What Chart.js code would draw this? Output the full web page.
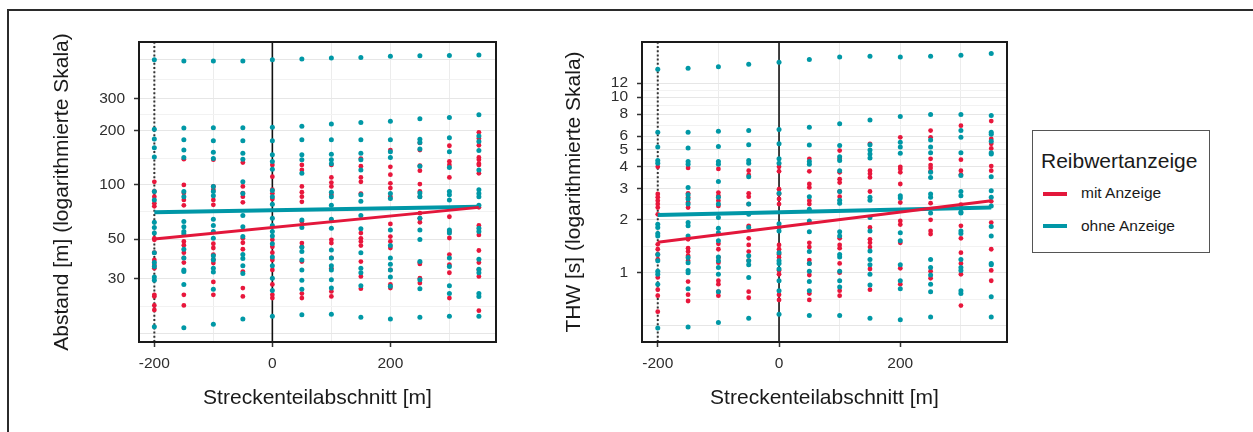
<!DOCTYPE html>
<html>
<head>
<meta charset="utf-8">
<script src="https://cdn.jsdelivr.net/npm/chart.js@4.4.1/dist/chart.umd.min.js"></script>
<style>
  html, body { margin: 0; padding: 0; background: #fff; }
  body { width: 1253px; height: 432px; position: relative; overflow: hidden; font-family: "Liberation Sans", Arial, sans-serif; }
  .frame { position: absolute; left: 7px; top: 9px; width: 1260px; height: 440px; border-top: 2px solid #2b2b2b; border-left: 2px solid #2b2b2b; }
  canvas { position: absolute; top: 0; }
  #left { left: 0; }
  #right { left: 520px; }
  .legend { position: absolute; left: 1032px; top: 130px; width: 176px; height: 121px; border: 1px solid #555; color: #1a1a1a; }
  .legend .title { position: absolute; left: 8px; top: 18px; font-size: 21px; line-height: 24px; white-space: nowrap; }
  .legend .key { position: absolute; left: 10px; width: 24px; height: 4px; }
  .legend .label { position: absolute; left: 48px; font-size: 15.5px; line-height: 18px; white-space: nowrap; }
</style>
</head>
<body>
<div class="frame"></div>
<canvas id="left" width="510" height="432"></canvas>
<canvas id="right" width="500" height="432"></canvas>
<div class="legend">
  <div class="title">Reibwertanzeige</div>
  <div class="key" style="top:61px;background:#e3173b"></div>
  <div class="label" style="top:53px">mit Anzeige</div>
  <div class="key" style="top:93px;background:#0097a7"></div>
  <div class="label" style="top:86px">ohne Anzeige</div>
</div>
<script>
// Streckenteilabschnitte (x)
const xColumns = [-200, -150, -100, -50, 0, 50, 100, 150, 200, 250, 300, 350]
const xGrid = [-200, -100, 0, 100, 200, 300]
const xTickLabels = [-200, 0, 200]
const refLines = [-200, 0]
const fitX = [-200, 350]

// Abstand [m]
const leftYMajor = [15, 30, 50, 100, 200, 300, 500]
const leftYMinor = [21.2, 38.7, 70.7, 141, 245, 387]
const leftYLabels = [30, 50, 100, 200, 300]
const leftRange = [13.4, 622]

const leftMit = [
  [104, 92, 86, 79, 76, 50.5, 49.5, 42, 38.3, 35.9, 34.4, 24.5, 24, 21.4, 20.2],
  [139, 100, 90, 82.5, 77, 48.5, 46.2, 42, 39.3, 37, 24.5, 21.4],
  [138, 98, 94, 82.5, 77.5, 47.1, 44.6, 41, 38.6, 36.8, 28.9, 24.5],
  [133, 98, 90, 86, 80, 50.5, 47.7, 43.9, 33, 26.7, 24],
  [129, 111, 94, 89.5, 83.5, 49.5, 45.3, 42, 38.3, 33.7, 28, 24.5, 23.5],
  [129, 121, 98, 91, 86, 80.5, 62.5, 47.5, 45.3, 37.5, 24.9, 23.5],
  [129, 110, 103, 98, 88, 49.5, 47.5, 39.3, 34.4, 25.6, 24],
  [140, 127, 110, 104, 89.5, 54, 50.5, 48.5, 46, 37.5, 31, 26.5],
  [156, 126, 114, 102, 96, 86, 60.7, 51.6, 48.5, 44.6, 33.7, 28, 26.7],
  [171, 156, 128, 120, 101, 92, 86, 69.6, 65.2, 62, 37, 36.4, 30.3, 28.5],
  [165, 135, 129, 110, 66.5, 55, 50.7, 41, 36, 32.5, 23.5],
  [196, 181, 166, 142, 138, 131, 129, 116, 75, 59.5, 52.7, 43.2, 37, 33.7, 31, 20]
]
const leftOhne = [
  [495, 204, 180, 161, 143, 92, 82.5, 62, 58, 54, 42, 37, 35.2, 30.8, 29.5, 16.3],
  [488, 207, 178, 156, 142, 92, 86, 62.5, 58.6, 55, 53.5, 43.9, 39.3, 33.7, 33, 28, 16.1],
  [488, 208, 176, 152, 140, 98, 92, 87, 64.5, 59.5, 55, 50.5, 40.4, 38.3, 34.4, 32.8, 26.3, 16.8],
  [488, 208, 176, 150, 139, 104, 89.5, 67.5, 58.6, 51.6, 41, 39, 35.5, 32.2, 18],
  [495, 209, 176, 147, 135, 122, 93, 86, 78, 65.2, 59.5, 55, 52, 47.1, 39.8, 35.5, 30.3, 25.9, 18.6],
  [500, 212, 178, 147, 138, 116, 63.9, 58, 45.1, 42.7, 38.3, 33.7, 29.5, 26.3, 19],
  [507, 218, 178, 148, 138, 131, 91, 86, 77, 64.5, 57.5, 43.5, 39.3, 35.5, 33.7, 29.7, 26.7, 19.1],
  [510, 222, 178, 150, 138, 121, 88, 81, 67.5, 57, 42, 34.4, 32.5, 27.5, 18.4],
  [518, 226, 178, 153, 142, 89.5, 84, 56.2, 46, 39.3, 36.2, 33.7, 30.8, 27.3, 18],
  [522, 233, 179, 172, 158, 127, 90, 86, 65.2, 56.2, 49.7, 37.5, 29.7, 26.5, 18.4],
  [524, 237, 183, 153, 125, 92, 88, 82.5, 56.2, 54, 39.3, 35.2, 27.5, 24.9, 18.6],
  [527, 245, 187, 174, 155, 121, 94, 89.5, 86, 77, 57.5, 55, 38.6, 34, 32.5, 24.9, 24, 18.6]
]
const leftFitMit = [50, 75]
const leftFitOhne = [70.5, 75.5]

// THW [s]
const rightYMajor = [0.5, 1, 2, 3, 4, 5, 6, 8, 10, 12]
const rightYMinor = [0.707, 1.41, 2.45, 3.46, 4.47, 5.48, 6.93, 8.94, 10.95]
const rightYLabels = [1, 2, 3, 4, 5, 6, 8, 10, 12]
const rightRange = [0.403, 20.6]

const rightMit = [
  [4.01, 2.81, 2.69, 2.57, 2.46, 2.35, 2.15, 1.45, 1.36, 1.27, 1.19, 0.94, 0.8, 0.74, 0.6],
  [3.95, 2.83, 2.69, 2.51, 2.35, 1.55, 1.38, 1.32, 1.25, 1.17, 0.89, 0.75, 0.69],
  [3.9, 2.86, 2.74, 2.57, 2.4, 1.46, 1.36, 1.22, 1.14, 0.9, 0.86, 0.78, 0.74],
  [3.81, 3.6, 2.83, 2.71, 2.46, 1.85, 1.57, 1.44, 1.32, 1.17, 0.78, 0.72],
  [4.01, 3.78, 2.99, 2.81, 2.63, 2.46, 1.44, 1.36, 1.27, 1.22, 1.03, 0.98, 0.75, 0.7],
  [4.45, 3.78, 3.2, 3.06, 2.57, 2.46, 1.48, 1.4, 1.18, 1.13, 0.97, 0.76, 0.7],
  [4.96, 4.45, 3.73, 3.41, 3.26, 2.9, 2.71, 1.57, 1.44, 1.38, 1.13, 1.0, 0.79, 0.74],
  [5.42, 3.81, 3.66, 3.49, 2.9, 1.81, 1.55, 1.48, 1.4, 1.05, 0.8],
  [5.9, 4.01, 3.9, 3.73, 3.2, 2.51, 1.97, 1.88, 1.48, 1.06, 0.86],
  [6.45, 5.9, 4.45, 4.1, 3.95, 3.78, 2.49, 2.0, 1.73, 1.66, 1.02, 0.93],
  [6.88, 4.4, 3.81, 3.62, 2.44, 1.85, 1.57, 1.3, 1.13, 0.98, 0.65],
  [7.3, 5.78, 5.42, 5.1, 4.05, 3.81, 2.55, 1.93, 1.36, 1.03, 0.9]
]
const rightOhne = [
  [14.4, 6.3, 5.2, 4.35, 4.2, 1.89, 1.81, 1.67, 1.62, 1.27, 1.17, 1.02, 0.98, 0.86, 0.485],
  [14.6, 6.3, 5.13, 4.3, 4.15, 3.06, 2.78, 2.63, 2.46, 1.93, 1.85, 1.62, 1.22, 1.14, 1.03, 1.0, 0.81, 0.49],
  [14.9, 6.4, 5.23, 4.3, 4.15, 3.31, 2.69, 2.46, 2.06, 1.79, 1.69, 1.52, 1.23, 1.17, 1.07, 0.98, 0.78, 0.52],
  [15.4, 6.45, 5.36, 4.35, 4.2, 3.52, 2.46, 2.15, 1.81, 1.25, 1.17, 1.11, 0.94, 0.55],
  [15.8, 6.55, 5.42, 4.45, 4.2, 2.83, 1.9, 1.81, 1.73, 1.3, 1.17, 1.13, 1.05, 0.9, 0.79, 0.58],
  [16.4, 6.73, 5.34, 4.3, 4.15, 2.71, 2.3, 1.97, 1.71, 1.32, 1.13, 1.02, 0.89, 0.79, 0.57],
  [16.9, 7.06, 5.3, 4.58, 4.35, 3.81, 2.9, 2.59, 2.49, 1.71, 1.62, 1.27, 1.23, 1.02, 0.9, 0.83, 0.57],
  [17.1, 7.4, 5.36, 5.0, 4.75, 4.5, 2.69, 2.59, 2.06, 1.73, 1.33, 1.19, 1.11, 0.98, 0.85, 0.55],
  [16.9, 7.75, 5.53, 5.2, 4.79, 2.74, 2.66, 1.69, 1.52, 1.11, 0.9, 0.81, 0.54],
  [17.1, 7.95, 5.7, 5.2, 4.82, 3.73, 3.49, 2.81, 2.69, 2.19, 1.19, 1.07, 0.97, 0.86, 0.78, 0.56],
  [17.3, 7.95, 6.45, 5.9, 4.82, 3.58, 2.9, 2.74, 2.22, 2.19, 1.73, 1.67, 1.19, 1.07, 1.03, 0.79, 0.76],
  [17.7, 7.85, 6.3, 6.15, 5.6, 4.82, 4.75, 3.52, 2.93, 2.69, 2.4, 1.83, 1.62, 1.13, 1.11, 0.73, 0.56]
]
const rightFitMit = [1.49, 2.57]
const rightFitOhne = [2.13, 2.35]

const RED = '#e8173c'
const TEAL = '#0098a6'
const RED_LINE = '#e3173b'
const TEAL_LINE = '#0097a7'

Chart.defaults.font.family = '"Liberation Sans", Arial, sans-serif'

const toPoints = (columns) => {
  const pts = []
  xColumns.forEach((x, i) => columns[i].forEach(y => pts.push({ x, y })))
  return pts
}

const panelBorder = {
  id: 'panelBorder',
  afterDatasetsDraw(chart) {
    const { ctx, chartArea: { left, top, width, height } } = chart
    ctx.save()
    ctx.strokeStyle = '#1a1a1a'
    ctx.lineWidth = 2
    ctx.strokeRect(left, top, width, height)
    ctx.restore()
  }
}

const buildPanel = ({ canvasId, mit, ohne, fitMit, fitOhne, yMajor, yMinor, yLabels, yRange, xRange, yTitle, yAxisWidth, yTitlePad, rightPad }) => {
  const yTicks = [...yMajor, ...yMinor].sort((a, b) => a - b)
  const datasets = [
    {
      label: 'mit Anzeige fit', data: fitX.map((x, i) => ({ x, y: fitMit[i] })),
      showLine: true, borderColor: RED_LINE, borderWidth: 3, pointRadius: 0, order: 0
    },
    {
      label: 'ohne Anzeige fit', data: fitX.map((x, i) => ({ x, y: fitOhne[i] })),
      showLine: true, borderColor: TEAL_LINE, borderWidth: 4, pointRadius: 0, order: 1
    },
    {
      label: 'ohne Anzeige', data: toPoints(ohne),
      backgroundColor: TEAL, borderWidth: 0, pointRadius: 2.5, order: 2
    },
    {
      label: 'mit Anzeige', data: toPoints(mit),
      backgroundColor: RED, borderWidth: 0, pointRadius: 2.4, order: 3
    },
    {
      label: 'ref -200', data: [{ x: refLines[0], y: yRange[0] }, { x: refLines[0], y: yRange[1] }],
      showLine: true, borderColor: '#333', borderWidth: 2, borderDash: [2, 2.2], pointRadius: 0, order: 5
    },
    {
      label: 'ref 0', data: [{ x: refLines[1], y: yRange[0] }, { x: refLines[1], y: yRange[1] }],
      showLine: true, borderColor: '#111', borderWidth: 1.6, pointRadius: 0, order: 4
    }
  ]

  return new Chart(document.getElementById(canvasId), {
    type: 'scatter',
    data: { datasets },
    plugins: [panelBorder],
    options: {
      responsive: false,
      animation: false,
      events: [],
      layout: { padding: { top: 42, right: rightPad, bottom: 0, left: 0 } },
      plugins: { legend: { display: false }, tooltip: { enabled: false } },
      scales: {
        x: {
          type: 'linear', min: xRange[0], max: xRange[1], bounds: 'data',
          afterBuildTicks: axis => { axis.ticks = xGrid.map(value => ({ value })) },
          afterFit: axis => { axis.height = 90 },
          border: { display: false },
          grid: {
            color: '#ececec', lineWidth: 1, tickLength: 5, tickWidth: 1.5,
            tickColor: ctx => xTickLabels.includes(ctx.tick && ctx.tick.value) ? '#333' : 'rgba(0,0,0,0)'
          },
          ticks: {
            autoSkip: false, maxRotation: 0, padding: 7, color: '#2e2e2e', font: { size: 15.5 },
            callback: v => xTickLabels.includes(v) ? String(v) : ''
          },
          title: { display: true, text: 'Streckenteilabschnitt [m]', color: '#1a1a1a', font: { size: 21 }, padding: { top: 0, bottom: 21.4 } }
        },
        y: {
          type: 'logarithmic', min: yRange[0], max: yRange[1], bounds: 'data',
          afterBuildTicks: axis => { axis.ticks = yTicks.map(value => ({ value })) },
          afterFit: axis => { axis.width = yAxisWidth },
          border: { display: false },
          grid: {
            lineWidth: 1, tickLength: 5, tickWidth: 1.5,
            color: ctx => yMajor.includes(ctx.tick && ctx.tick.value) ? '#e6e6e6' : '#f2f2f2',
            tickColor: ctx => yLabels.includes(ctx.tick && ctx.tick.value) ? '#333' : 'rgba(0,0,0,0)'
          },
          ticks: {
            autoSkip: false, padding: 9, color: '#2e2e2e', font: { size: 15.5 },
            callback: v => yLabels.includes(v) ? String(v) : ''
          },
          title: { display: true, text: yTitle, color: '#1a1a1a', font: { size: 21 }, padding: { top: yTitlePad, bottom: 0 } }
        }
      }
    }
  })
}

buildPanel({
  canvasId: 'left', mit: leftMit, ohne: leftOhne, fitMit: leftFitMit, fitOhne: leftFitOhne,
  yMajor: leftYMajor, yMinor: leftYMinor, yLabels: leftYLabels, yRange: leftRange, xRange: [-226, 379],
  yTitle: 'Abstand [m] (logarithmierte Skala)', yAxisWidth: 139, yTitlePad: 49.4, rightPad: 14
})

buildPanel({
  canvasId: 'right', mit: rightMit, ohne: rightOhne, fitMit: rightFitMit, fitOhne: rightFitOhne,
  yMajor: rightYMajor, yMinor: rightYMinor, yLabels: rightYLabels, yRange: rightRange, xRange: [-226, 376],
  yTitle: 'THW [s] (logarithmierte Skala)', yAxisWidth: 122, yTitlePad: 41.4, rightPad: 13
})
</script>
</body>
</html>
